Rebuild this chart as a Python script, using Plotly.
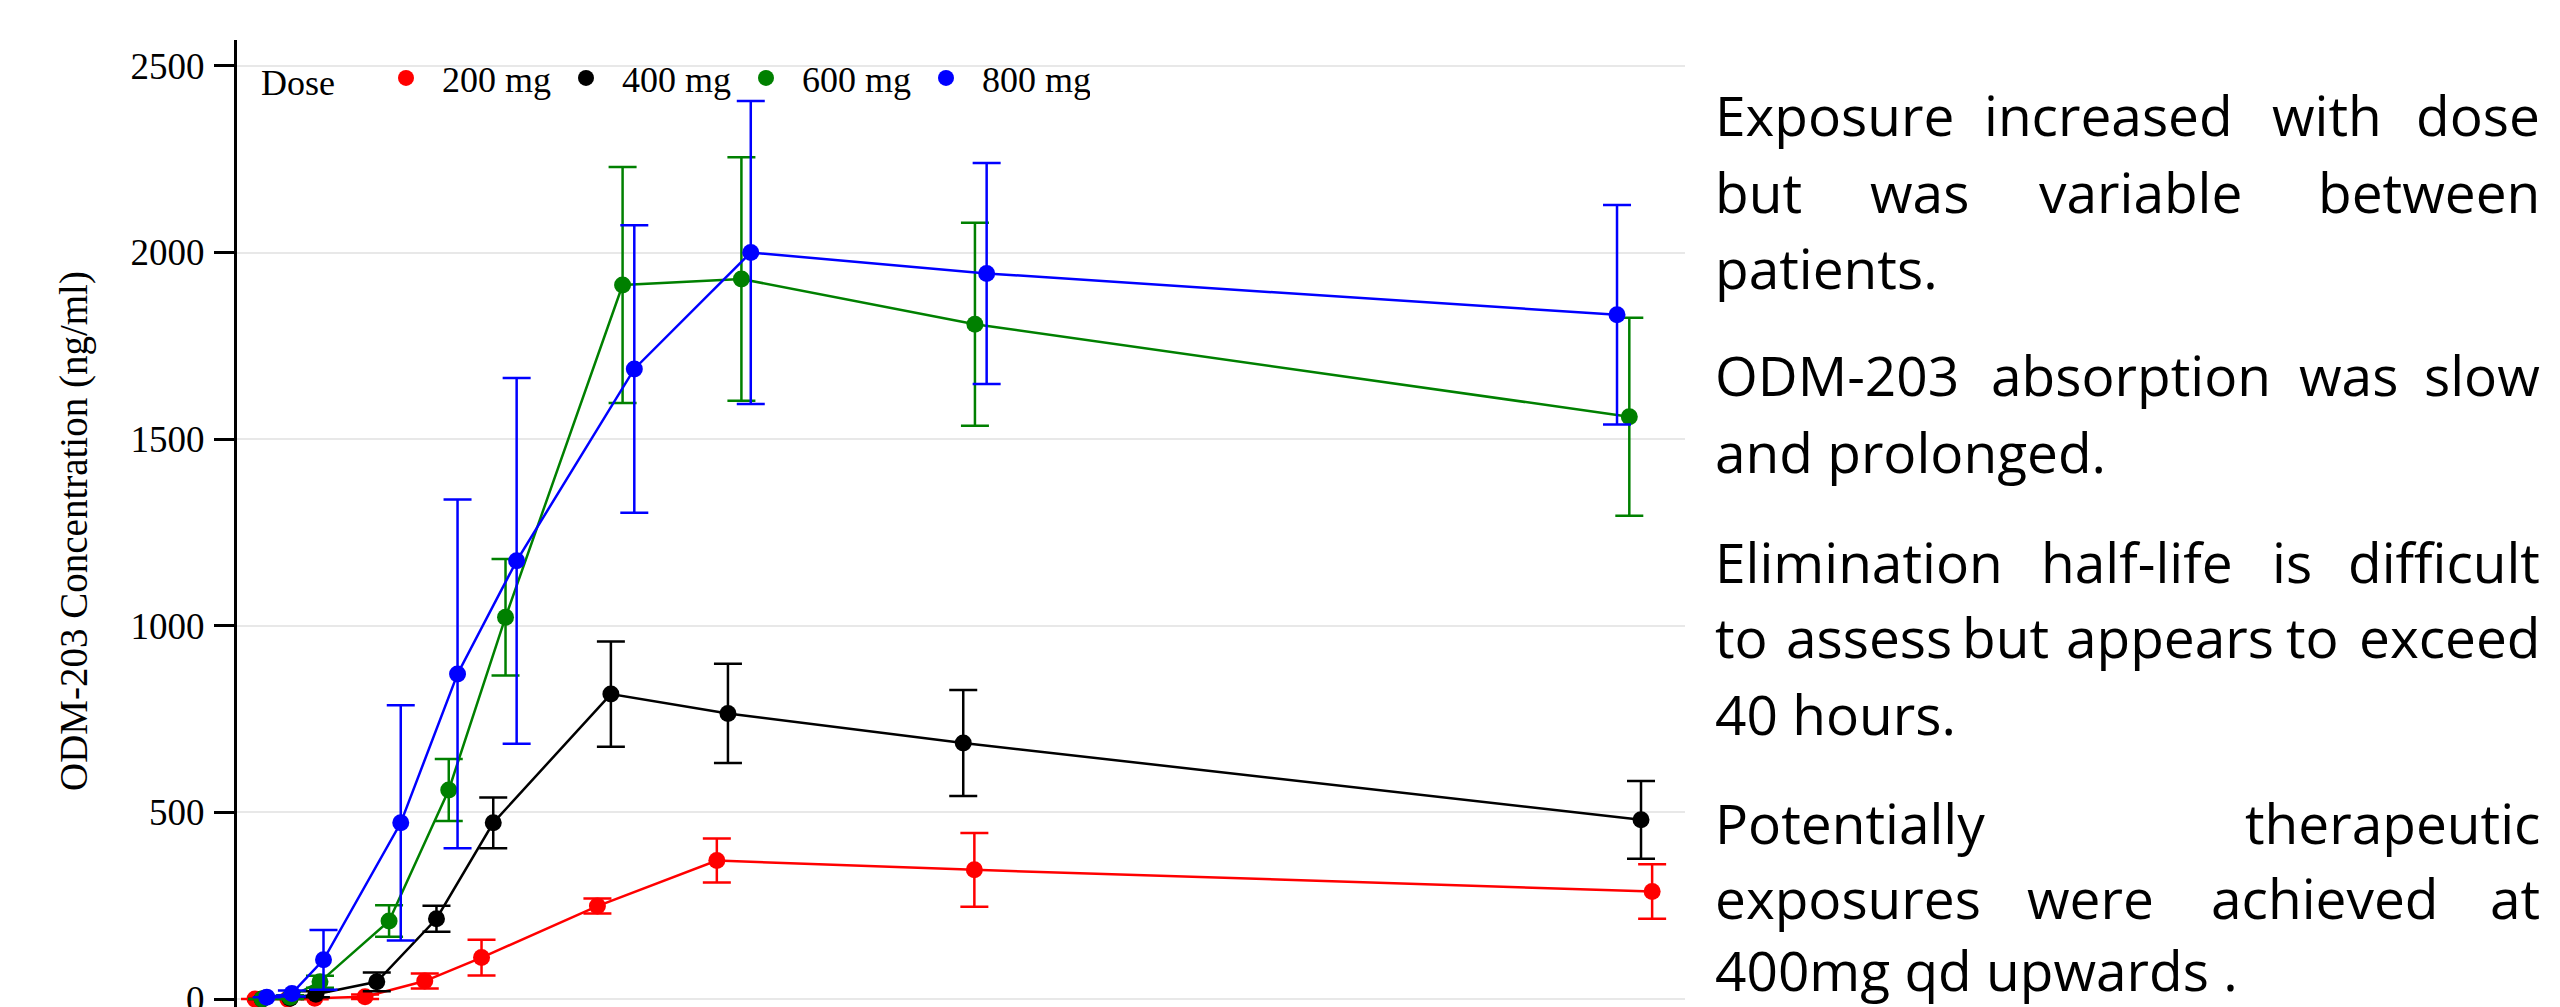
import plotly.graph_objects as go

# ---------------- data (hours, ng/ml) ----------------
doses = ["200 mg", "400 mg", "600 mg", "800 mg"]
colors = ["#ff0000", "#000000", "#008000", "#0000ff"]

time_200 = [0.12, 0.68, 1.14, 2.00, 3.02, 3.99, 5.97, 8.01, 12.41, 23.99]
conc_200 = [0, 0, 2, 6, 48, 111, 249, 371, 346, 288]
err_200 = [0, 0, 3, 6, 20, 48, 20, 59, 99, 73]

time_400 = [0.24, 0.72, 1.16, 2.20, 3.22, 4.19, 6.20, 8.20, 12.22, 23.80]
conc_400 = [0, 2, 13, 46, 215, 472, 817, 765, 686, 480]
err_400 = [0, 2, 8, 25, 35, 68, 141, 133, 142, 104]

time_600 = [0.24, 0.72, 1.23, 2.41, 3.43, 4.40, 6.40, 8.43, 12.42, 23.60]
conc_600 = [0, 5, 46, 209, 560, 1023, 1913, 1929, 1808, 1560]
err_600 = [0, 5, 16, 42, 83, 156, 316, 326, 272, 265]

time_800 = [0.32, 0.75, 1.29, 2.61, 3.58, 4.59, 6.60, 8.59, 12.62, 23.39]
conc_800 = [5, 15, 105, 472, 871, 1174, 1688, 2000, 1944, 1833]
err_800 = [0, 8, 80, 315, 467, 490, 385, 406, 296, 294]

y_ticks = [0, 500, 1000, 1500, 2000, 2500]
y_title = "ODM-203 Concentration (ng/ml)"
legend_title = "Dose"

paragraphs = [
    [["Exposure", "increased", "with", "dose"],
     ["but", "was", "variable", "between"],
     ["patients."]],
    [["ODM-203", "absorption", "was", "slow"],
     ["and prolonged."]],
    [["Elimination", "half-life", "is", "difficult"],
     ["to", "assess", "but", "appears", "to", "exceed"],
     ["40 hours."]],
    [["Potentially", "therapeutic"],
     ["exposures", "were", "achieved", "at"],
     ["400mg qd upwards ."]],
]

# ---------------- layout geometry ----------------
W, H = 2560, 1007
ML, MR, MT, MB = 237, 875, 40, 0
PW, PH = W - ML - MR, H - MT - MB


def pxx(px):
    return (px - ML) / PW


def pxy(py):
    return (H - MB - py) / PH


serif = "Liberation Serif, Times New Roman, serif"
sans = "Open Sans, Noto Sans, sans-serif"

fig = go.Figure()

series = [
    (time_200, conc_200, err_200),
    (time_400, conc_400, err_400),
    (time_600, conc_600, err_600),
    (time_800, conc_800, err_800),
]
for name, col, (t, c, e) in zip(doses, colors, series):
    fig.add_trace(go.Scatter(
        x=t, y=c, mode="lines+markers", name=name, showlegend=False,
        line=dict(color=col, width=2.5),
        marker=dict(color=col, size=17),
        error_y=dict(type="data", array=e, visible=True, color=col,
                     thickness=2.5, width=14),
    ))
# legend entries (dots only)
for name, col in zip(doses, colors):
    fig.add_trace(go.Scatter(
        x=[None], y=[None], mode="markers", name=name,
        marker=dict(color=col, size=16),
    ))

# text block on the right
text_left, text_right = 1713, 2542
baselines = [[136, 212, 288], [395, 472], [582, 658, 734], [843, 918, 990]]
word_extents = {
    (0, 0): [(1713, 1946), (1985, 2232), (2271, 2382), (2421, 2542)],
    (0, 1): [(1713, 1798), (1871, 1968), (2038, 2243), (2316, 2542)],
    (1, 0): [(1713, 1960), (1991, 2270), (2299, 2397), (2428, 2542)],
    (2, 0): [(1713, 2001), (2040, 2234), (2274, 2310), (2346, 2542)],
    (2, 1): [(1713, 1773), (1785, 1952), (1963, 2048), (2069, 2270),
             (2282, 2342), (2363, 2542)],
    (3, 0): [(1713, 1985), (2243, 2542)],
    (3, 1): [(1713, 1971), (2027, 2154), (2210, 2438), (2477, 2542)],
}
FS = 55
BASE_OFF = 21
annotations = []
for pi, para in enumerate(paragraphs):
    for li, words in enumerate(para):
        yc = pxy(baselines[pi][li] - BASE_OFF)
        ext = word_extents.get((pi, li))
        if ext is None:
            annotations.append(dict(text=words[0], x=pxx(text_left), y=yc,
                                    xref="paper", yref="paper", xanchor="left",
                                    yanchor="middle", showarrow=False,
                                    font=dict(family=sans, size=FS, color="black")))
            continue
        n = len(words)
        for wi, (w, (a, b)) in enumerate(zip(words, ext)):
            if wi == 0:
                xp, anc = a, "left"
            elif wi == n - 1:
                xp, anc = b, "right"
            else:
                xp, anc = (a + b) / 2, "center"
            annotations.append(dict(text=w, x=pxx(xp), y=yc, xref="paper",
                                    yref="paper", xanchor=anc, yanchor="middle",
                                    showarrow=False,
                                    font=dict(family=sans, size=FS, color="black")))

# y-axis title
annotations.append(dict(text=y_title, x=pxx(74), y=pxy(531), xref="paper",
                        yref="paper", xanchor="center", yanchor="middle",
                        textangle=-90, showarrow=False,
                        font=dict(family=serif, size=39, color="black")))

y0_px = 999
unit_px = (999 - 252.5) / 2000.0
y_lo = (y0_px - (H - MB)) / unit_px
y_hi = (y0_px - MT) / unit_px
x_org, x_scale = 248, 58.53
x_lo = (ML - x_org) / x_scale
x_hi = (ML + PW - x_org) / x_scale

fig.update_layout(
    width=W, height=H,
    margin=dict(l=ML, r=MR, t=MT, b=MB, pad=0, autoexpand=False),
    paper_bgcolor="white", plot_bgcolor="white",
    font=dict(family=serif, size=37, color="black"),
    xaxis=dict(range=[x_lo, x_hi], showgrid=False, zeroline=False,
               showline=False, showticklabels=False, ticks="",
               automargin=False),
    yaxis=dict(range=[y_lo, y_hi], tickvals=y_ticks, automargin=False,
               showgrid=True, gridcolor="#e8e8e8", gridwidth=2,
               zeroline=False, showline=True, linecolor="black", linewidth=3,
               ticks="outside", ticklen=20, tickwidth=3, tickcolor="black",
               ticklabelstandoff=2, ticklabeloverflow="allow",
               tickfont=dict(family=serif, size=37, color="black")),
    legend=dict(orientation="h", x=pxx(259), y=pxy(78), xanchor="left",
                yanchor="middle", bgcolor="rgba(0,0,0,0)",
                title=dict(text=legend_title + "&nbsp;&nbsp;&nbsp;",
                           font=dict(family=serif, size=36)),
                font=dict(family=serif, size=36, color="black"),
                itemwidth=62, entrywidth=103, entrywidthmode="pixels"),
    annotations=annotations,
    showlegend=True,
)

fig.write_html("out.html",
               config={"displayModeBar": False},
               post_script="document.body.style.margin='0px';"
                           "document.body.style.overflow='hidden';")
